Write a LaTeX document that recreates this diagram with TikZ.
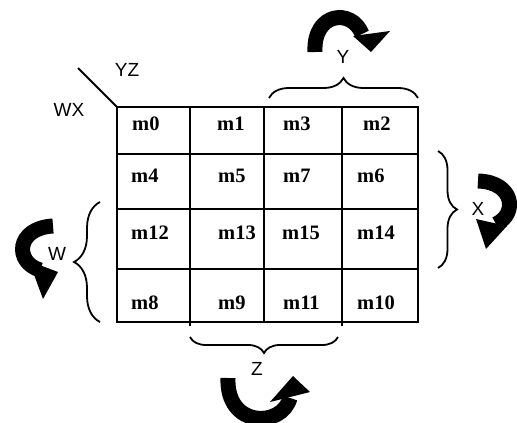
\documentclass[tikz,border=0pt]{standalone}
\usepackage{fontspec}
\setmainfont{Liberation Serif}
\setsansfont{Liberation Sans}
\usetikzlibrary{decorations.pathreplacing}
\begin{document}
\begin{tikzpicture}[x=1pt,y=-1pt,
  grid/.style={line width=2.6pt},
  cell/.style={anchor=base west,inner sep=0pt,font=\fontsize{20.5}{20.5}\selectfont\bfseries},
  lab/.style={inner sep=0pt,font=\fontsize{19}{19}\selectfont\sffamily},
  curly/.style={line width=1.8pt,decorate,decoration={brace,amplitude=#1}},
  flip/.style={line width=15pt},
  head/.style={fill=black}]
\useasboundingbox (0,0) rectangle (517,423);

% grid corners and lines
\coordinate (c0) at (117,107);
\coordinate (c1) at (190,107);
\coordinate (c2) at (264,107);
\coordinate (c3) at (342,107);
\coordinate (c4) at (418,107);
\coordinate (b0) at (117,322);
\coordinate (b1) at (190,326);
\coordinate (b2) at (264,322);
\coordinate (b3) at (342,326);
\coordinate (b4) at (418,322);
\draw[grid] (c0) -- (c4) -- (b4) -- (b0) -- cycle;
\draw[grid] (c1) -- (b1);
\draw[grid] (c2) -- (b2);
\draw[grid] (c3) -- (b3);
\draw[grid] (117,154) -- (418,154);
\draw[grid] (117,209) -- (418,209);
\draw[grid] (117,269) -- (418,269);

% corner diagonal
\coordinate (d0) at (78,68);
\draw[line width=2pt] (d0) -- (c0);
\node[lab] (yz) at (127,70) {YZ};
\node[lab] (wx) at (69,110) {WX};

% minterm labels
\node[cell] (m0)  at (132,130) {m0};
\node[cell] (m1)  at (217,130) {m1};
\node[cell] (m3)  at (283,130) {m3};
\node[cell] (m2)  at (363,130) {m2};
\node[cell] (m4)  at (131,182) {m4};
\node[cell] (m5)  at (218,182) {m5};
\node[cell] (m7)  at (283,182) {m7};
\node[cell] (m6)  at (357,182) {m6};
\node[cell] (m12) at (131,239) {m12};
\node[cell] (m13) at (218,239) {m13};
\node[cell] (m15) at (282,239) {m15};
\node[cell] (m14) at (357,239) {m14};
\node[cell] (m8)  at (131,309) {m8};
\node[cell] (m9)  at (218,309) {m9};
\node[cell] (m11) at (283,309) {m11};
\node[cell] (m10) at (357,309) {m10};

% braces
\draw[curly=20pt] (269,98) -- (418,98);
\draw[curly=19pt] (438,151) -- (438,268);
\draw[curly=26pt] (100,322) -- (100,202);
\draw[curly=16pt] (338,337) -- (190,337);

\node[lab] (y) at (343,57) {Y};
\node[lab] (x) at (478,209) {X};
\node[lab] (w) at (57,254) {W};
\node[lab] (z) at (257,369) {Z};

% curved arrows
\draw[flip] (315,52) .. controls (313,12) and (352,8) .. (362,34);
\fill[head] (353,36) -- (390,31) -- (371,52) -- cycle;

\draw[flip] (53,226) .. controls (16,228) and (14,262) .. (40,270);
\fill[head] (29,261) -- (58,272) -- (43,299) -- cycle;

\draw[flip] (478,181) .. controls (514,182) and (518,214) .. (496,224);
\fill[head] (476,219) -- (507,226) -- (486,249) -- cycle;

\draw[flip] (228,378) .. controls (226,428) and (282,428) .. (290,398);
\fill[head] (270,402) -- (310,392) -- (293,376) -- cycle;
\end{tikzpicture}
\end{document}
